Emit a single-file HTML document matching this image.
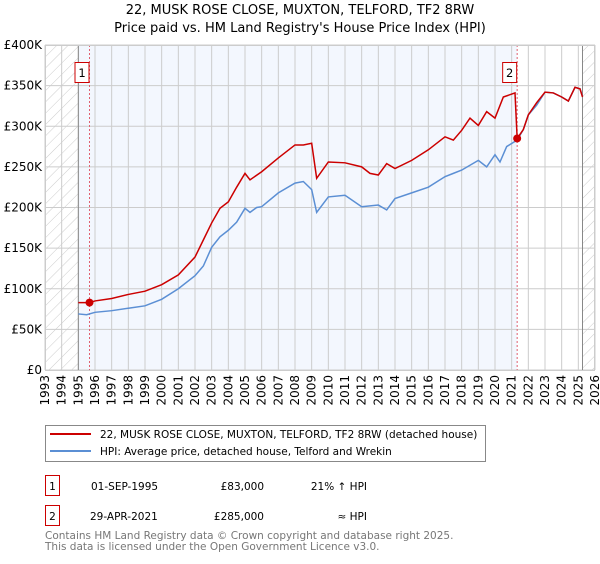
<!DOCTYPE html>
<html><head><meta charset="utf-8"><style>
body{margin:0;background:#fff;font-family:"DejaVu Sans","Liberation Sans",sans-serif;}
svg text{font-family:"DejaVu Sans","Liberation Sans",sans-serif;}
</style></head><body>
<svg id="c" width="600" height="560" xmlns="http://www.w3.org/2000/svg">
<defs><pattern id="hatch" width="8" height="8" patternUnits="userSpaceOnUse" patternTransform="rotate(45)"><line x1="0" y1="0" x2="0" y2="8" stroke="#ccc" stroke-width="1"/></pattern></defs>
<text x="300" y="14" text-anchor="middle" font-size="13" fill="#000">22, MUSK ROSE CLOSE, MUXTON, TELFORD, TF2 8RW</text>
<text x="300" y="32" text-anchor="middle" font-size="13" fill="#000">Price paid vs. HM Land Registry's House Price Index (HPI)</text>
<g id="plot"></g>
<g>
<rect x="45.5" y="425.5" width="440" height="36" fill="#fff" stroke="#888"/>
<line x1="50" y1="434" x2="91" y2="434" stroke="#cc0000" stroke-width="2"/>
<text x="100" y="438" font-size="10.5">22, MUSK ROSE CLOSE, MUXTON, TELFORD, TF2 8RW (detached house)</text>
<line x1="50" y1="451" x2="91" y2="451" stroke="#5b8fd4" stroke-width="2"/>
<text x="100" y="455" font-size="10.5">HPI: Average price, detached house, Telford and Wrekin</text>
</g>
<g font-size="10.5">
<rect x="45.5" y="475.5" width="14" height="20" fill="#fff" stroke="#cc0000"/>
<text x="52.5" y="490" text-anchor="middle">1</text>
<text x="91" y="490">01-SEP-1995</text>
<text x="264" y="490" text-anchor="end">£83,000</text>
<text x="367" y="490" text-anchor="end">21% ↑ HPI</text>
<rect x="45.5" y="505.5" width="14" height="20" fill="#fff" stroke="#cc0000"/>
<text x="52.5" y="520" text-anchor="middle">2</text>
<text x="90" y="520">29-APR-2021</text>
<text x="264" y="520" text-anchor="end">£285,000</text>
<text x="367" y="520" text-anchor="end">≈ HPI</text>
</g>
<text x="45" y="539" font-size="10.5" fill="#777">Contains HM Land Registry data © Crown copyright and database right 2025.</text>
<text x="45" y="550" font-size="10.5" fill="#777">This data is licensed under the Open Government Licence v3.0.</text>
</svg>
<script>
const years=[1993,1994,1995,1996,1997,1998,1999,2000,2001,2002,2003,2004,2005,2006,2007,2008,2009,2010,2011,2012,2013,2014,2015,2016,2017,2018,2019,2020,2021,2022,2023,2024,2025,2026];
const yTicks=[0,50,100,150,200,250,300,350,400];
const yTickLabels=["£0","£50K","£100K","£150K","£200K","£250K","£300K","£350K","£400K"];
const hpiDates=[1995,1995.5,1996,1997,1998,1999,2000,2001,2002,2002.5,2003,2003.5,2004,2004.5,2005,2005.3,2005.7,2006,2007,2008,2008.5,2009,2009.3,2010,2011,2012,2013,2013.5,2014,2015,2016,2017,2017.5,2018,2019,2019.5,2020,2020.3,2020.7,2021.33,2021.7,2022,2022.5,2023,2023.5,2024,2024.4,2024.8,2025.1,2025.25];
const hpiValues=[69,68,71,73,76,79,87,100,116,128,151,164,172,182,199,194,200,201,218,230,232,222,194,213,215,201,203,197,211,218,225,238,242,246,258,250,265,256,275,283,296,314,326,342,341,336,331,348,346,337];
const priceDates=[1995,1995.67,1996,1997,1998,1999,2000,2001,2002,2002.5,2003,2003.5,2004,2004.5,2005,2005.3,2006,2007,2008,2008.5,2009,2009.3,2010,2011,2012,2012.5,2013,2013.5,2014,2015,2016,2017,2017.5,2018,2018.5,2019,2019.5,2020,2020.5,2021.2,2021.33,2021.7,2022,2022.5,2023,2023.5,2024,2024.4,2024.8,2025.1,2025.25];
const priceValues=[83,83,85,88,93,97,105,117,139,160,181,199,207,225,242,234,244,261,277,277,279,236,256,255,250,242,240,254,248,258,271,287,283,295,310,301,318,310,336,341,285,296,314,329,342,341,336,331,348,346,336];
const saleDates=[1995.67,2021.33];
const salePrices=[83,285];
const saleLabels=["1","2"];

const L=45,R=595,T=45,B=370,Y0=1993,Y1=2026,V1=400;
const xs=d=>L+(d-Y0)/(Y1-Y0)*(R-L);
const ys=v=>B-v/V1*(B-T);
const NS="http://www.w3.org/2000/svg";
const g=document.getElementById('plot');
function mk(tag,attrs){const e=document.createElementNS(NS,tag);for(const k in attrs)e.setAttribute(k,attrs[k]);g.appendChild(e);return e;}
let e;
e=mk('rect',{x:L,y:T,width:R-L,height:B-T,fill:'#fff'});


e=mk('rect',{x:xs(1995),y:T,width:xs(2021.33)-xs(1995),height:B-T,fill:'#f3f7fe'});


e=mk('rect',{x:L,y:T,width:xs(1995)-L,height:B-T,fill:'url(#hatch)'});


e=mk('rect',{x:xs(2025.25),y:T,width:R-xs(2025.25),height:B-T,fill:'url(#hatch)'});


years.forEach(y=>{
 e=mk('line',{x1:xs(y),y1:T,x2:xs(y),y2:B,stroke:'#ccc','stroke-width':1});
 
 
 const t=mk('text',{x:0,y:0,'font-size':12,'text-anchor':'end',transform:`translate(${xs(y)+4},${B+5}) rotate(-90)`});
 t.textContent=y;
 
 
});
yTicks.forEach((v,i)=>{
 e=mk('line',{x1:L,y1:ys(v),x2:R,y2:ys(v),stroke:'#ccc','stroke-width':1});
 
 
 const t=mk('text',{x:L-3,y:ys(v)+4,'font-size':12,'text-anchor':'end'});
 t.textContent=yTickLabels[i];
 
 
});
e=mk('line',{x1:xs(1995),y1:T,x2:xs(1995),y2:B,stroke:'#888'});


e=mk('line',{x1:xs(2025.25),y1:T,x2:xs(2025.25),y2:B,stroke:'#888'});


saleDates.forEach((d,i)=>{
 e=mk('line',{x1:xs(d),y1:T,x2:xs(d),y2:B,stroke:'#e06070','stroke-dasharray':'2,2'});
 
 
});
e=mk('polyline',{points:hpiDates.map((d,i)=>xs(d)+','+ys(hpiValues[i])).join(' '),fill:'none',stroke:'#5b8fd4','stroke-width':1.5});


e=mk('polyline',{points:priceDates.map((d,i)=>xs(d)+','+ys(priceValues[i])).join(' '),fill:'none',stroke:'#cc0000','stroke-width':1.5});


saleDates.forEach((d,i)=>{
 e=mk('circle',{cx:xs(d),cy:ys(salePrices[i]),r:4,fill:'#cc0000'});
 
 
 const bx=xs(d)-15;
 e=mk('rect',{x:bx+0.5,y:62.5,width:14,height:20,fill:'#fff',stroke:'#cc0000'});
 
 
 const t=mk('text',{x:bx+7.5,y:77,'font-size':11.5,'text-anchor':'middle'});
 t.textContent=saleLabels[i];
 
 
});
e=mk('rect',{x:L+0.5,y:T+0.5,width:R-L-1,height:B-T,fill:'none',stroke:'#ccc'});


</script>
</body></html>
